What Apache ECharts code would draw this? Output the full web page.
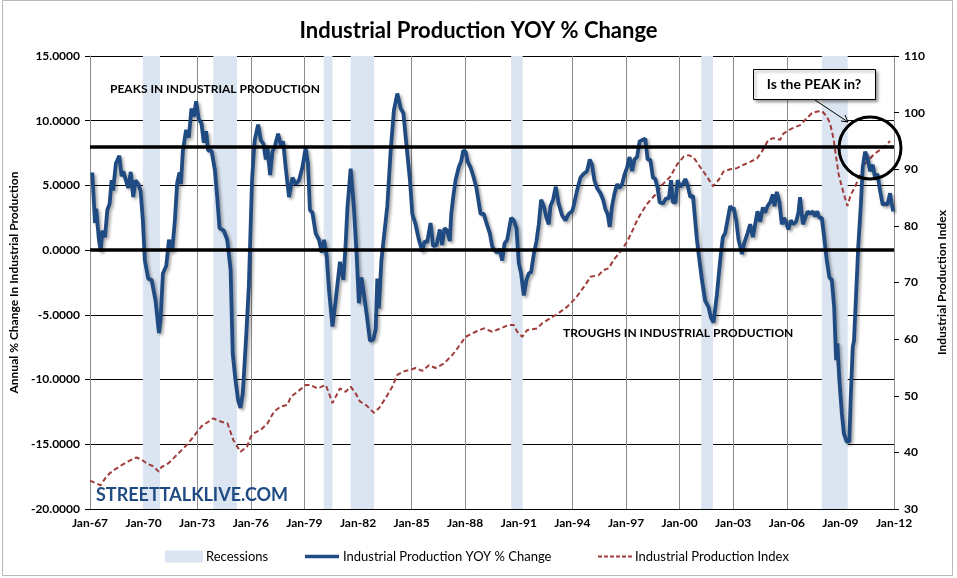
<!DOCTYPE html>
<html>
<head>
<meta charset="utf-8">
<script src="https://cdn.jsdelivr.net/npm/echarts@6/dist/echarts.min.js"></script>
<style>html,body{margin:0;padding:0;background:#fff}#c{width:957px;height:578px}</style>
</head>
<body>
<div id="c"></div>
<script>
// ---- data (decimal years) ----
const yoyYears = [1967.13,1967.28,1967.35,1967.50,1967.60,1967.69,1967.84,1967.97,1968.10,1968.21,1968.29,1968.45,1968.64,1968.77,1968.86,1969.01,1969.14,1969.28,1969.42,1969.55,1969.70,1969.83,1969.96,1970.07,1970.26,1970.45,1970.67,1970.86,1970.95,1971.08,1971.27,1971.42,1971.60,1971.75,1971.88,1972.01,1972.09,1972.20,1972.38,1972.53,1972.68,1972.81,1972.94,1973.09,1973.24,1973.37,1973.50,1973.61,1973.80,1973.99,1974.12,1974.25,1974.49,1974.68,1974.87,1974.99,1975.14,1975.29,1975.42,1975.55,1975.74,1975.89,1976.07,1976.17,1976.22,1976.41,1976.56,1976.71,1976.84,1976.93,1977.08,1977.21,1977.34,1977.53,1977.68,1977.81,1977.96,1978.14,1978.33,1978.52,1978.70,1978.89,1979.07,1979.20,1979.31,1979.45,1979.63,1979.82,1979.97,1980.10,1980.25,1980.38,1980.57,1980.75,1980.99,1981.18,1981.31,1981.41,1981.59,1981.77,1981.93,1982.05,1982.19,1982.33,1982.48,1982.67,1982.86,1982.99,1983.08,1983.17,1983.31,1983.45,1983.64,1983.83,1984.01,1984.20,1984.39,1984.54,1984.72,1984.91,1985.04,1985.22,1985.41,1985.60,1985.73,1985.87,1986.06,1986.21,1986.40,1986.58,1986.71,1986.84,1986.99,1987.14,1987.22,1987.33,1987.46,1987.64,1987.78,1987.89,1988.02,1988.15,1988.30,1988.48,1988.63,1988.86,1989.04,1989.19,1989.38,1989.51,1989.64,1989.79,1989.93,1990.07,1990.20,1990.35,1990.44,1990.57,1990.72,1990.87,1991.00,1991.13,1991.28,1991.43,1991.56,1991.69,1991.84,1991.99,1992.12,1992.25,1992.40,1992.55,1992.68,1992.77,1992.92,1993.07,1993.23,1993.42,1993.61,1993.79,1993.98,1994.07,1994.26,1994.45,1994.63,1994.82,1994.97,1995.10,1995.23,1995.38,1995.57,1995.72,1995.84,1995.97,1996.09,1996.22,1996.36,1996.50,1996.64,1996.78,1996.91,1997.06,1997.20,1997.34,1997.47,1997.62,1997.76,1997.90,1998.08,1998.21,1998.36,1998.51,1998.64,1998.77,1998.88,1999.07,1999.25,1999.40,1999.52,1999.63,1999.77,1999.89,2000.04,2000.19,2000.32,2000.45,2000.60,2000.75,2000.84,2000.97,2001.12,2001.25,2001.43,2001.62,2001.75,2001.90,2002.09,2002.27,2002.42,2002.55,2002.68,2002.83,2002.98,2003.02,2003.17,2003.30,2003.49,2003.61,2003.80,2003.95,2004.10,2004.23,2004.36,2004.51,2004.66,2004.79,2004.92,2005.07,2005.22,2005.31,2005.44,2005.59,2005.72,2005.85,2005.96,2006.09,2006.22,2006.37,2006.52,2006.65,2006.74,2006.90,2007.03,2007.17,2007.30,2007.45,2007.58,2007.71,2007.82,2007.96,2008.09,2008.24,2008.38,2008.52,2008.65,2008.76,2008.83,2008.94,2009.08,2009.20,2009.35,2009.50,2009.58,2009.69,2009.76,2009.88,2010.00,2010.14,2010.25,2010.38,2010.51,2010.66,2010.81,2010.94,2011.07,2011.22,2011.37,2011.50,2011.63,2011.78,2011.87,2011.96];
const yoyValues = [6.0,2.1,3.2,0.8,-0.1,1.5,1.0,3.1,3.6,5.4,4.6,6.7,7.3,5.7,6.1,5.4,4.8,6.05,4.1,5.4,5.1,4.6,2.3,-0.8,-2.2,-2.3,-3.9,-6.4,-5.4,-1.8,-1.2,0.8,-0.1,2.3,5.2,6.0,5.1,7.7,9.3,8.7,10.95,10.3,11.5,10.1,9.8,8.3,9.2,7.7,7.7,6.2,4.1,1.7,1.5,0.8,-1.5,-8.0,-10.0,-11.6,-12.2,-11.1,-6.7,-2.8,5.4,7.6,8.5,9.7,8.5,8.2,7.0,8.0,5.8,7.6,8.0,9.0,8.1,8.4,6.3,4.1,5.6,5.1,5.4,6.4,7.9,6.7,3.1,2.9,1.3,0.8,-0.2,0.8,-0.5,-3.1,-5.9,-3.9,-0.9,-2.3,0.5,3.3,6.3,3.3,-0.5,-4.1,-2.1,-3.4,-4.9,-7.0,-6.9,-6.1,-2.2,-4.5,-0.8,1.0,3.4,7.7,10.8,12.1,10.95,10.6,8.0,5.4,2.8,2.0,0.8,-0.1,0.7,0.6,2.1,0.3,0.4,1.6,0.4,1.7,1.5,0.7,2.8,4.1,5.4,6.4,6.9,7.7,7.6,6.8,6.4,5.6,4.8,2.8,2.8,2.1,1.3,0.3,0.0,-0.2,0.1,-0.8,0.5,0.8,1.5,2.5,2.3,1.7,-1.0,-1.8,-3.5,-2.3,-1.8,-1.7,-0.3,0.7,2.0,3.9,3.4,2.5,2.0,3.4,3.9,4.9,3.6,2.7,2.3,2.8,3.0,3.4,4.6,5.6,5.9,6.1,7.0,6.6,5.4,4.8,4.4,3.9,3.2,2.8,1.8,3.4,4.4,5.1,4.8,5.1,5.8,6.4,7.2,6.1,7.0,7.2,8.4,8.5,8.6,7.0,7.0,5.6,5.5,4.8,3.7,3.6,4.0,4.0,5.4,3.7,3.7,5.4,4.9,5.1,5.5,5.0,4.1,4.2,2.8,0.8,-0.9,-2.3,-3.9,-4.4,-5.2,-5.6,-3.4,-0.8,1.0,1.3,2.3,3.4,3.1,3.3,2.3,0.8,-0.3,0.5,1.3,2.0,1.0,2.0,3.0,2.2,3.3,2.9,3.4,3.7,4.3,3.4,4.5,3.7,2.0,2.5,2.1,1.6,2.3,2.0,2.2,2.9,4.1,2.0,2.5,3.0,2.8,3.0,2.6,3.0,2.5,2.5,1.0,-0.8,-2.1,-2.3,-4.4,-8.5,-7.2,-10.0,-12.6,-14.2,-14.8,-14.8,-11.3,-7.5,-7.0,-3.4,0.3,3.4,6.4,7.6,7.2,6.1,6.6,5.6,5.9,4.6,3.5,3.6,3.5,4.4,3.6,3.0];

const indexYears = [1967.00,1967.30,1967.60,1967.85,1968.10,1968.40,1968.80,1969.25,1969.60,1969.90,1970.20,1970.50,1970.85,1971.00,1971.40,1971.75,1972.13,1972.50,1972.87,1973.24,1973.90,1974.36,1974.70,1975.02,1975.42,1975.79,1976.00,1976.17,1976.56,1976.93,1977.30,1977.68,1978.05,1978.24,1978.61,1979.07,1979.35,1979.73,1980.20,1980.38,1980.57,1980.75,1980.99,1981.31,1981.59,1981.87,1982.11,1982.43,1982.89,1983.17,1983.55,1983.92,1984.20,1984.57,1984.95,1985.23,1985.60,1985.97,1986.34,1986.81,1987.28,1987.64,1988.02,1988.58,1989.04,1989.51,1989.98,1990.44,1990.72,1990.91,1991.19,1991.47,1992.03,1992.31,1992.77,1993.23,1993.70,1994.17,1994.73,1995.01,1995.47,1995.75,1996.03,1996.31,1996.68,1997.06,1997.34,1997.62,1997.90,1998.21,1998.64,1999.01,1999.48,1999.85,2000.22,2000.50,2000.78,2001.15,2001.53,2001.87,2002.18,2002.46,2002.83,2003.21,2003.58,2003.95,2004.33,2004.60,2004.97,2005.25,2005.63,2005.81,2006.28,2006.75,2007.02,2007.40,2007.71,2007.96,2008.24,2008.42,2008.61,2008.76,2008.89,2009.08,2009.26,2009.39,2009.58,2009.82,2010.10,2010.38,2010.75,2011.03,2011.40,2011.78];
const indexValues = [35.0,34.6,34.2,35.4,36.3,37.0,37.8,38.6,39.1,38.7,38.0,37.6,36.6,37.4,38.1,39.2,40.4,41.6,43.1,44.6,46.0,45.4,45.1,42.2,40.1,41.0,42.8,43.4,44.0,45.1,47.2,48.1,48.4,49.8,50.7,51.9,51.9,51.3,51.9,50.4,48.7,49.8,51.3,50.7,51.6,50.4,49.0,48.4,47.0,47.8,49.6,51.6,53.7,54.3,54.6,54.9,54.4,55.4,54.9,55.7,57.2,58.7,60.4,61.3,61.9,61.3,61.9,62.5,62.5,61.3,60.4,61.6,61.9,62.8,63.7,64.6,65.7,67.2,69.6,71.0,71.3,72.2,72.5,74.0,75.4,77.2,79.0,81.0,82.5,84.0,85.5,87.2,88.7,90.8,92.2,92.5,92.1,90.4,88.7,87.0,88.1,89.6,90.0,90.2,90.8,91.3,91.9,93.1,95.2,95.5,95.2,96.3,97.2,97.8,98.7,99.9,100.2,100.3,99.3,98.1,95.5,92.2,89.3,86.9,84.9,83.5,85.5,86.9,89.0,91.0,92.2,93.0,93.8,95.0];

const recessionStarts = [1969.96,1973.90,1980.08,1981.59,1990.57,2001.21,2007.96];
const recessionEnds   = [1970.92,1975.23,1980.57,1982.90,1991.22,2001.87,2009.41];

const xTickYears  = [1967,1970,1973,1976,1979,1982,1985,1988,1991,1994,1997,2000,2003,2006,2009,2012];
const xTickLabels = ['Jan-67','Jan-70','Jan-73','Jan-76','Jan-79','Jan-82','Jan-85','Jan-88','Jan-91','Jan-94','Jan-97','Jan-00','Jan-03','Jan-06','Jan-09','Jan-12'];
const referenceLevels = [8, 0];

// ---- chart ----
const FONT = 'Lato, "Open Sans", sans-serif';
const chart = echarts.init(document.getElementById('c'), null, {renderer: 'canvas'});
const yoyData = yoyYears.map((y, i) => [y, yoyValues[i]]);
const indexData = indexYears.map((y, i) => [y, indexValues[i]]);
const legendText = {fontFamily: FONT, fontSize: 13, color: '#000', padding: [0, 0, 0, -2]};
const solidIcon = 'path://M0,0h34v3.5h-34z';
const dashIcon = 'path://M0,0h4v2h-4zM6,0h4v2h-4zM12,0h4v2h-4zM18,0h4v2h-4zM24,0h4v2h-4zM30,0h4v2h-4z';

chart.setOption({
  animation: false,
  backgroundColor: '#fff',
  textStyle: {fontFamily: FONT},
  title: {
    text: 'Industrial Production YOY % Change',
    left: 'center', top: 15,
    textStyle: {fontFamily: FONT, fontSize: 22, fontWeight: 'bold', color: '#000'}
  },
  grid: {left: 89, right: 63, top: 56, bottom: 69},
  legend: [
    {left: 160, top: 545, itemWidth: 38, itemHeight: 12, textStyle: legendText,
     data: [{name: 'Recessions', icon: 'rect', itemStyle: {color: '#dbe5f1'}}]},
    {left: 300, top: 545, itemWidth: 36, itemHeight: 3.5, textStyle: legendText,
     data: [{name: 'Industrial Production YOY % Change', icon: solidIcon, itemStyle: {color: '#1f4b82'}}]},
    {left: 593, top: 545, itemWidth: 34, itemHeight: 2, textStyle: legendText,
     data: [{name: 'Industrial Production Index', icon: dashIcon, itemStyle: {color: '#a03c3a'}}]}
  ],
  xAxis: {
    type: 'value', min: 1967, max: 2012, interval: 3,
    axisLine: {show: true, onZero: false, lineStyle: {color: '#000', width: 1}},
    axisTick: {show: false},
    splitLine: {show: true, lineStyle: {color: '#8c8c8c', width: 1}},
    axisLabel: {
      margin: 8, fontFamily: FONT, fontSize: 12, fontWeight: 'bold', color: '#000',
      formatter: v => { const i = xTickYears.indexOf(Math.round(v)); return i >= 0 ? xTickLabels[i] : ''; }
    }
  },
  yAxis: [
    {
      type: 'value', min: -20, max: 15, interval: 5,
      name: 'Annual % Change In Industrial Production', nameLocation: 'middle', nameRotate: 90, nameGap: 66,
      nameTextStyle: {fontFamily: FONT, fontSize: 12, fontWeight: 'bold', color: '#000'},
      axisLine: {show: true, onZero: false, lineStyle: {color: '#8c8c8c'}},
      axisTick: {show: true, length: 5, lineStyle: {color: '#000'}},
      splitLine: {show: true, lineStyle: {color: '#000', width: 1}},
      axisLabel: {margin: 10, fontFamily: FONT, fontSize: 12, fontWeight: 'bold', color: '#000',
        formatter: v => v.toFixed(4)}
    },
    {
      type: 'value', min: 30, max: 110, interval: 10, position: 'right',
      name: 'Industrial Production Index', nameLocation: 'middle', nameRotate: 90, nameGap: 42,
      nameTextStyle: {fontFamily: FONT, fontSize: 12, fontWeight: 'bold', color: '#000'},
      axisLine: {show: true, onZero: false, lineStyle: {color: '#8c8c8c'}},
      axisTick: {show: true, length: 5, lineStyle: {color: '#000'}},
      splitLine: {show: false},
      axisLabel: {margin: 10, fontFamily: FONT, fontSize: 12, fontWeight: 'bold', color: '#000'}
    }
  ],
  series: [
    {
      name: 'Recessions', type: 'line', data: [], color: '#dbe5f1', silent: true,
      markArea: {
        silent: true,
        itemStyle: {color: '#dbe5f1'},
        data: recessionStarts.map((s, i) => [{xAxis: s}, {xAxis: recessionEnds[i]}])
      }
    },
    {
      name: 'Industrial Production Index', type: 'line', yAxisIndex: 1, data: indexData,
      showSymbol: false, symbol: 'none', color: '#a03c3a', z: 3,
      lineStyle: {color: '#a03c3a', width: 2, type: [5, 3]}
    },
    {
      name: 'Industrial Production YOY % Change', type: 'line', yAxisIndex: 0, data: yoyData,
      showSymbol: false, symbol: 'none', color: '#1f4b82', z: 4,
      lineStyle: {color: '#1f4b82', width: 3.8, shadowColor: 'rgba(0,0,0,0.35)', shadowBlur: 3, shadowOffsetX: 2, shadowOffsetY: 2},
      markLine: {
        silent: true, symbol: 'none', label: {show: false},
        lineStyle: {color: '#000', width: 3.5, type: 'solid'},
        data: referenceLevels.map(v => ({yAxis: v}))
      }
    }
  ],
  graphic: [
    {type: 'rect', z: 100, shape: {x: 2.5, y: 0.5, width: 950, height: 575}, style: {fill: 'none', stroke: '#b8b8b8', lineWidth: 1}, silent: true},
    {type: 'text', z: 100, left: 110, top: 83, style: {text: 'PEAKS IN INDUSTRIAL PRODUCTION', fontFamily: FONT, fontSize: 12, fontWeight: 'bold', fill: '#000'}},
    {type: 'text', z: 100, left: 563, top: 327, style: {text: 'TROUGHS IN INDUSTRIAL PRODUCTION', fontFamily: FONT, fontSize: 12, fontWeight: 'bold', fill: '#000'}},
    {type: 'text', z: 100, left: 96, top: 486, style: {text: 'STREETTALKLIVE.COM', fontFamily: FONT, fontSize: 18, fontWeight: 'bold', fill: '#1f4b82',
      shadowColor: 'rgba(0,0,0,0.35)', shadowBlur: 2, shadowOffsetX: 1, shadowOffsetY: 1}},
    {type: 'rect', z: 100, shape: {x: 753.5, y: 69.5, width: 122, height: 30},
      style: {fill: '#fff', stroke: '#000', lineWidth: 1, shadowColor: 'rgba(0,0,0,0.4)', shadowBlur: 3, shadowOffsetX: 2, shadowOffsetY: 2}},
    {type: 'text', z: 101, x: 814, y: 84, style: {text: 'Is the PEAK in?', fontFamily: FONT, fontSize: 14, fontWeight: 'bold', fill: '#000', align: 'center', verticalAlign: 'middle'}},
    {type: 'line', z: 101, shape: {x1: 815, y1: 100, x2: 848, y2: 122}, style: {stroke: '#000', lineWidth: 1}},
    {type: 'polyline', z: 101, shape: {points: [[841, 121], [848, 122], [845, 115]]}, style: {stroke: '#000', lineWidth: 1, fill: 'none'}},
    {type: 'circle', z: 102, shape: {cx: 870, cy: 148, r: 31}, style: {fill: 'none', stroke: '#000', lineWidth: 3}}
  ]
});
</script>
</body>
</html>
